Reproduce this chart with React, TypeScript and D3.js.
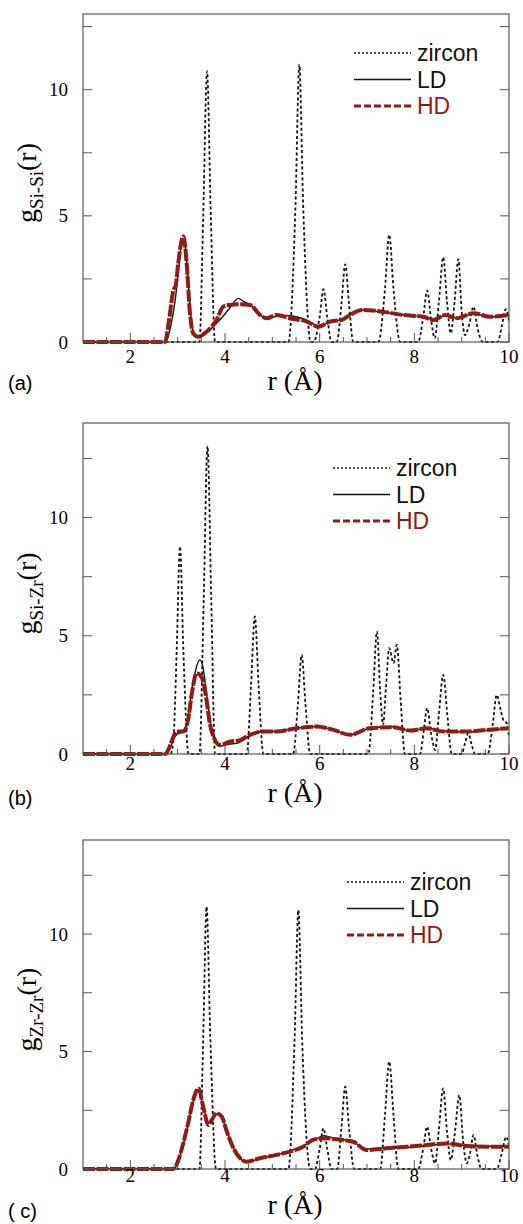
import * as d3 from "d3";

type Pt = [number, number];

// r values (Å) and g(r)
const ZIRCON_A: Pt[] = [
  [1, 0], [3.46, 0], [3.54, 5.0], [3.62, 10.73], [3.7, 5.0], [3.79, 0],
  [5.34, 0], [5.49, 5.5], [5.57, 10.99], [5.65, 5.5], [5.81, 0],
  [5.87, 0], [6.0, 1.0], [6.08, 2.09], [6.16, 1.0], [6.25, 0],
  [6.36, 0], [6.46, 1.5], [6.54, 3.08], [6.62, 1.5], [6.71, 0],
  [7.24, 0], [7.38, 2.1], [7.47, 4.25], [7.56, 2.1], [7.7, 0],
  [8.08, 0], [8.19, 1.0], [8.27, 2.04], [8.36, 0.8], [8.43, 0.15], [8.52, 1.6], [8.61, 3.36],
  [8.69, 1.6], [8.77, 0.34], [8.85, 1.6], [8.93, 3.28], [9.0, 1.2], [9.07, 0.27], [9.16, 0.7],
  [9.25, 1.4], [9.34, 0.5], [9.45, 0],
  [9.76, 0], [9.85, 0.65], [9.93, 1.3], [10, 0.85],
];
const LD_A: Pt[] = [
  [1, 0], [2.75, 0], [2.85, 0.6], [2.95, 1.7], [3.02, 2.9], [3.1, 4.1], [3.14, 4.0], [3.2, 3.0],
  [3.27, 1.2], [3.34, 0.35], [3.44, 0.2], [3.6, 0.35], [3.8, 0.7], [3.95, 1.0], [4.1, 1.35],
  [4.28, 1.73], [4.4, 1.6], [4.55, 1.45], [4.72, 1.1], [4.88, 0.95], [5.1, 1.02], [5.3, 1.05],
  [5.55, 0.98], [5.75, 0.85], [5.97, 0.62], [6.22, 0.8], [6.46, 0.9], [6.64, 1.07], [6.89, 1.27],
  [7.34, 1.18], [7.77, 1.07], [8.19, 1.0], [8.4, 0.88], [8.65, 1.05], [8.89, 0.95], [9.25, 1.12],
  [9.6, 1.0], [10, 1.05],
];
const HD_A: Pt[] = [
  [1, 0], [2.73, 0], [2.82, 0.9], [2.91, 2.06], [2.96, 2.25], [3.01, 3.1], [3.12, 4.18],
  [3.19, 3.12], [3.26, 1.14], [3.33, 0.34], [3.44, 0.21], [3.61, 0.41], [3.82, 0.87],
  [3.96, 1.4], [4.1, 1.47], [4.3, 1.5], [4.53, 1.47], [4.74, 1.07], [4.88, 0.94], [5.09, 1.07],
  [5.37, 0.94], [5.73, 0.81], [5.97, 0.61], [6.22, 0.81], [6.46, 0.87], [6.64, 1.07],
  [6.89, 1.27], [7.34, 1.2], [7.77, 1.07], [8.19, 1.0], [8.4, 0.87], [8.65, 1.07], [8.89, 0.94],
  [9.25, 1.14], [9.6, 1.0], [10, 1.07],
];

const ZIRCON_B: Pt[] = [
  [1, 0], [2.85, 0], [2.91, 0.6], [2.98, 4.4], [3.05, 8.78], [3.12, 4.4], [3.23, 0],
  [3.46, 0], [3.55, 6.5], [3.63, 13.02], [3.71, 6.5], [3.79, 0],
  [4.46, 0], [4.55, 2.9], [4.63, 5.82], [4.71, 2.9], [4.81, 0],
  [5.44, 0], [5.54, 2.1], [5.62, 4.19], [5.7, 2.1], [5.8, 0],
  [7.03, 0], [7.13, 2.6], [7.21, 5.18], [7.28, 2.6], [7.34, 1.23], [7.4, 2.8], [7.47, 4.48],
  [7.56, 3.84], [7.63, 4.62], [7.71, 2.3], [7.8, 0],
  [8.12, 0], [8.2, 1.0], [8.27, 1.94], [8.36, 0.8], [8.44, 0.17], [8.52, 1.7], [8.61, 3.35],
  [8.7, 1.6], [8.79, 0],
  [9.0, 0], [9.07, 0.45], [9.14, 0.88], [9.21, 0.4], [9.28, 0],
  [9.55, 0], [9.66, 1.3], [9.74, 2.5], [9.82, 1.9], [9.88, 1.44], [9.95, 1.3], [10, 0.73],
];
const LD_B: Pt[] = [
  [1, 0], [2.75, 0], [2.85, 0.3], [2.93, 0.7], [3.0, 0.85], [3.12, 0.95], [3.22, 1.5],
  [3.3, 2.7], [3.4, 3.7], [3.47, 3.98], [3.54, 3.6], [3.61, 2.57], [3.7, 1.2], [3.79, 0.55],
  [3.92, 0.35], [4.1, 0.42], [4.25, 0.45], [4.4, 0.6], [4.53, 0.8], [4.81, 0.95], [5.09, 0.95],
  [5.51, 1.09], [5.94, 1.16], [6.29, 1.02], [6.64, 0.81], [7.06, 1.09], [7.56, 1.15],
  [7.91, 0.99], [8.26, 1.09], [8.61, 0.97], [9.11, 0.93], [9.53, 1.0], [10, 1.09],
];
const HD_B: Pt[] = [
  [1, 0], [2.73, 0], [2.85, 0.4], [2.91, 0.73], [2.98, 0.95], [3.12, 0.95], [3.22, 1.44],
  [3.3, 2.57], [3.4, 3.42], [3.47, 3.35], [3.54, 3.06], [3.61, 2.29], [3.68, 1.3], [3.79, 0.59],
  [3.89, 0.38], [4.1, 0.52], [4.32, 0.59], [4.53, 0.81], [4.81, 0.95], [5.09, 0.95],
  [5.51, 1.09], [5.94, 1.16], [6.29, 1.02], [6.64, 0.81], [7.06, 1.09], [7.56, 1.13],
  [7.91, 0.99], [8.26, 1.09], [8.61, 0.95], [9.11, 0.95], [9.53, 1.02], [10, 1.09],
];

const ZIRCON_C: Pt[] = [
  [1, 0], [3.46, 0], [3.54, 5.6], [3.61, 11.16], [3.69, 5.6], [3.81, 0],
  [5.34, 0], [5.47, 5.5], [5.55, 11.02], [5.63, 5.5], [5.8, 0],
  [5.9, 0], [6.0, 0.85], [6.08, 1.73], [6.16, 0.85], [6.25, 0],
  [6.37, 0], [6.46, 1.75], [6.54, 3.5], [6.62, 1.75], [6.73, 0],
  [7.28, 0], [7.38, 2.3], [7.47, 4.57], [7.56, 2.3], [7.66, 0],
  [8.08, 0], [8.19, 0.9], [8.27, 1.8], [8.36, 0.8], [8.44, 0.24], [8.52, 1.7], [8.61, 3.43],
  [8.69, 1.6], [8.77, 0.38], [8.86, 1.6], [8.95, 3.15], [9.03, 1.2], [9.11, 0.24], [9.18, 0.7],
  [9.25, 1.45], [9.33, 0.6], [9.42, 0],
  [9.74, 0], [9.85, 0.7], [9.94, 1.37], [10, 1.0],
];
const LD_C: Pt[] = [
  [1, 0], [2.92, 0], [3.0, 0.25], [3.08, 0.75], [3.22, 1.9], [3.33, 2.9], [3.42, 3.38],
  [3.54, 2.7], [3.65, 1.95], [3.72, 2.1], [3.82, 2.35], [3.93, 2.2], [4.04, 1.6], [4.18, 0.9],
  [4.32, 0.45], [4.46, 0.3], [4.74, 0.45], [5.09, 0.6], [5.37, 0.76], [5.65, 0.98], [5.87, 1.2],
  [6.1, 1.42], [6.3, 1.3], [6.5, 1.25], [6.71, 1.15], [6.99, 0.85], [7.41, 0.9], [7.84, 0.92],
  [8.26, 1.0], [8.68, 1.07], [9.11, 1.0], [9.53, 0.97], [10, 0.95],
];
const HD_C: Pt[] = [
  [1, 0], [2.91, 0], [3.0, 0.3], [3.08, 0.81], [3.22, 1.94], [3.33, 2.94], [3.44, 3.43],
  [3.54, 2.65], [3.65, 1.87], [3.72, 2.09], [3.82, 2.37], [3.93, 2.23], [4.04, 1.59],
  [4.18, 0.88], [4.32, 0.46], [4.46, 0.31], [4.74, 0.46], [5.09, 0.6], [5.37, 0.74],
  [5.65, 0.95], [5.87, 1.25], [6.15, 1.31], [6.3, 1.28], [6.5, 1.23], [6.71, 1.16],
  [6.99, 0.81], [7.41, 0.88], [7.84, 0.95], [8.26, 1.02], [8.68, 1.09], [9.11, 0.98],
  [9.53, 0.95], [10, 0.95],
];

const X_MAJOR = [2, 4, 6, 8, 10];
const Y_MAJOR = [0, 5, 10];
const Y_MINOR = [2.5, 7.5, 12.5];
const LEGEND = ["zircon", "LD", "HD"];

const RED = "#8e1b17";
const SERIF = "'Liberation Serif', 'Times New Roman', serif";
const SANS = "'Liberation Sans', Arial, sans-serif";
const LEFT = 83;
const RIGHT = 509;

type PanelCfg = {
  id: string;
  letter: string;
  sub: string;
  top: number;
  zero: number;
  yMax: number;
  zircon: Pt[];
  ld: Pt[];
  hd: Pt[];
  tickDy: number;
  xLabelY: number;
  letterY: number;
  legendX: number;
  legendY: number;
};

const PANELS: PanelCfg[] = [
  { id: "a", letter: "(a)", sub: "Si-Si", top: 14, zero: 342, yMax: 13, zircon: ZIRCON_A, ld: LD_A, hd: HD_A,
    tickDy: 21, xLabelY: 390, letterY: 390, legendX: 354, legendY: 53 },
  { id: "b", letter: "(b)", sub: "Si-Zr", top: 423, zero: 754, yMax: 14, zircon: ZIRCON_B, ld: LD_B, hd: HD_B,
    tickDy: 16, xLabelY: 802, letterY: 805, legendX: 333, legendY: 468 },
  { id: "c", letter: "( c)", sub: "Zr-Zr", top: 840, zero: 1169, yMax: 14, zircon: ZIRCON_C, ld: LD_C, hd: HD_C,
    tickDy: 13, xLabelY: 1214, letterY: 1218, legendX: 347, legendY: 882 },
];

const Panel = ({ p }: { p: PanelCfg }) => {
  const xScale = d3.scaleLinear().domain([1, 10]).range([LEFT, RIGHT]);
  const yScale = d3.scaleLinear().domain([0, p.yMax]).range([p.zero, p.top]);
  const line = d3
    .line<Pt>()
    .x((d) => xScale(d[0]))
    .y((d) => yScale(d[1]))
    .curve(d3.curveMonotoneX);
  const xMinor = d3.range(1.5, 10, 0.5).filter((v) => !X_MAJOR.includes(v));
  const clipId = `clip-${p.id}`;
  const midY = (p.top + p.zero) / 2 + 5;

  return (
    <g>
      <defs>
        <clipPath id={clipId}>
          <rect x={LEFT} y={p.top} width={RIGHT - LEFT} height={p.zero - p.top + 2} />
        </clipPath>
      </defs>

      {/* curves */}
      <g clipPath={`url(#${clipId})`} fill="none">
        <path d={line(p.zircon) ?? ""} stroke="#111" strokeWidth={1.8} strokeDasharray="3,2.5" />
        <path d={line(p.ld) ?? ""} stroke="#111" strokeWidth={1.4} />
        <path d={line(p.hd) ?? ""} stroke={RED} strokeWidth={4} strokeDasharray="12,1.5" strokeLinejoin="round" />
      </g>

      {/* frame */}
      <rect x={LEFT} y={p.top} width={RIGHT - LEFT} height={p.zero - p.top} fill="none" stroke="#555" strokeWidth={1.2} />

      {/* x ticks */}
      {X_MAJOR.map((v) => (
        <g key={v}>
          <line x1={xScale(v)} x2={xScale(v)} y1={p.zero} y2={p.zero - 9} stroke="#555" />
          <text x={xScale(v)} y={p.zero + p.tickDy} textAnchor="middle" fontFamily={SERIF} fontSize={19}>
            {v}
          </text>
        </g>
      ))}
      {xMinor.map((v) => (
        <line key={v} x1={xScale(v)} x2={xScale(v)} y1={p.zero} y2={p.zero - 5} stroke="#555" />
      ))}

      {/* y ticks */}
      {[...Y_MAJOR, ...Y_MINOR].map((v) => (
        <g key={v}>
          <line x1={LEFT} x2={LEFT + 9} y1={yScale(v)} y2={yScale(v)} stroke="#555" />
          <line x1={RIGHT} x2={RIGHT - 9} y1={yScale(v)} y2={yScale(v)} stroke="#555" />
        </g>
      ))}
      {Y_MAJOR.map((v) => (
        <text key={v} x={68} y={yScale(v) + 6.5} textAnchor="end" fontFamily={SERIF} fontSize={19}>
          {v}
        </text>
      ))}

      {/* axis titles */}
      <text x={(LEFT + RIGHT) / 2 - 1} y={p.xLabelY} textAnchor="middle" fontFamily={SERIF} fontSize={28}>
        r (Å)
      </text>
      <text
        transform={`translate(36, ${midY}) rotate(-90)`}
        textAnchor="middle"
        fontFamily={SERIF}
        fontSize={28}
      >
        g
        <tspan fontSize={19} dy={7}>{p.sub}</tspan>
        <tspan dy={-7}>(r)</tspan>
      </text>
      <text x={8} y={p.letterY} fontFamily={SANS} fontSize={20}>
        {p.letter}
      </text>

      {/* legend */}
      {LEGEND.map((name, i) => {
        const y = p.legendY + i * 26.5;
        const x2 = p.legendX + 57;
        return (
          <g key={name}>
            {i === 0 && (
              <line x1={p.legendX} x2={x2} y1={y} y2={y} stroke="#111" strokeWidth={1.5} strokeDasharray="2,2" />
            )}
            {i === 1 && <line x1={p.legendX} x2={x2} y1={y} y2={y} stroke="#111" strokeWidth={1.5} />}
            {i === 2 && (
              <line x1={p.legendX} x2={x2} y1={y} y2={y} stroke={RED} strokeWidth={3} strokeDasharray="7,3" />
            )}
            <text
              x={x2 + 6}
              y={y + 8}
              fontFamily={SANS}
              fontSize={23}
              fill={i === 2 ? RED : "#111"}
            >
              {name}
            </text>
          </g>
        );
      })}
    </g>
  );
};

export default function App() {
  return (
    <svg
      width={523}
      height={1224}
      style={{ position: "absolute", left: 0, top: 0, background: "#fff" }}
    >
      <rect width={523} height={1224} fill="#fff" />
      {PANELS.map((p) => (
        <Panel key={p.id} p={p} />
      ))}
    </svg>
  );
}
